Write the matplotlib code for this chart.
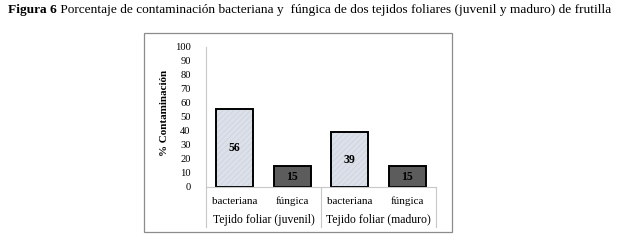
import numpy as np
import matplotlib
matplotlib.use("Agg")
import matplotlib.pyplot as plt
from matplotlib.patches import Rectangle
from matplotlib.transforms import blended_transform_factory

plt.rcParams['font.family'] = ['Liberation Serif', 'DejaVu Serif']
plt.rcParams['hatch.linewidth'] = 0.5

# data
tipos = ['bacteriana', 'fúngica', 'bacteriana', 'fúngica']
tejidos = ['Tejido foliar (juvenil)', 'Tejido foliar (maduro)']
contaminacion = [56, 15, 39, 15]
yticks = list(range(0, 101, 10))

light = '#dce0e9'
dark = '#5c5c5c'
colores = [light, dark, light, dark]

fig = plt.figure(figsize=(6.2, 2.44), dpi=100)
fig.patch.set_facecolor('white')

# outer chart box
fig.patches.append(Rectangle((144/620, 1-232/244), (452-144)/620, (232-33)/244,
                             transform=fig.transFigure, fill=False,
                             edgecolor='#8c8c8c', lw=0.9))

ax = fig.add_axes([206/620, 1-187/244, (436-206)/620, 140/244])
x = np.arange(len(contaminacion))
w = 0.65

# light bars carry a faint hatch pattern
for i, (v, c) in enumerate(zip(contaminacion, colores)):
    if c == light:
        ax.bar(x[i], v, w, color=c, hatch='//////', edgecolor='#ccd1dc', lw=0)
    else:
        ax.bar(x[i], v, w, color=c, lw=0)
ax.bar(x, contaminacion, w, fill=False, edgecolor='black', lw=1.4)

for xi, v in zip(x, contaminacion):
    ax.text(xi, v/2, str(v), ha='center', va='center', fontsize=8.5,
            fontweight='bold', color='black')

ax.set_xlim(-0.5, 3.5)
ax.set_ylim(0, 100)
ax.set_yticks(yticks)
ax.tick_params(axis='y', length=0, pad=11, labelsize=7.6)
ax.set_xticks([])
for s in ['top', 'right']:
    ax.spines[s].set_visible(False)
ax.spines['left'].set_color('#c8c8c8')
ax.spines['bottom'].set_color('#c8c8c8')
ax.spines['left'].set_linewidth(0.8)
ax.spines['bottom'].set_linewidth(0.8)
ax.set_ylabel('% Contaminación', fontsize=8, fontweight='bold')
ax.yaxis.set_label_coords((169-206)/230, (187-113)/140)

# category axis: two label rows and separators
tr = blended_transform_factory(ax.transData, ax.transAxes)
for xi, t in zip(x, tipos):
    ax.text(xi, -0.1, t, transform=tr, ha='center', va='center', fontsize=8)
for j, t in enumerate(tejidos):
    ax.text(2*j + 0.5, -0.235, t, transform=tr, ha='center', va='center', fontsize=8.5)
for xs in [-0.5, 1.5, 3.5]:
    ax.plot([xs, xs], [0, -0.286], transform=tr, color='#c8c8c8', lw=0.8,
            clip_on=False)

# caption: bold label then normal text right after it
t1 = fig.text(8/620, 1-10/244, 'Figura 6', fontsize=9.6, fontweight='bold',
              ha='left', va='center')
ax.annotate(' Porcentaje de contaminación bacteriana y  fúngica de dos tejidos '
            'foliares (juvenil y maduro) de frutilla', xy=(1, 0.5), xycoords=t1,
            ha='left', va='center', fontsize=9.6, annotation_clip=False)

fig.savefig('out.png', dpi=100, facecolor='white')
